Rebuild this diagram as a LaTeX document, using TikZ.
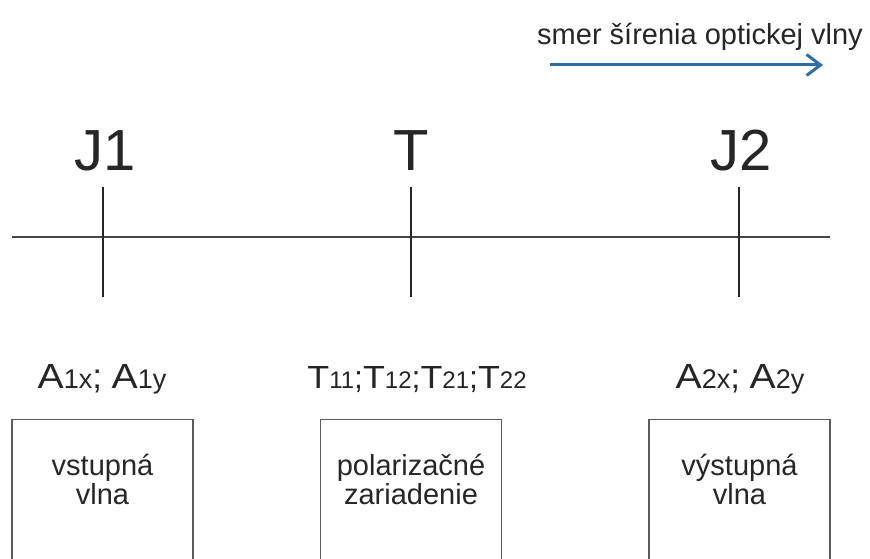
\documentclass[tikz,border=0pt]{standalone}
\usepackage{fontspec}
\usepackage{graphicx}
\setmainfont{Liberation Sans}
\usetikzlibrary{arrows.meta}
\definecolor{ink}{HTML}{262626}
\definecolor{wave}{HTML}{2E6DA4}
% indices set on the baseline, and a slightly widened capital
\newcommand{\idxA}[1]{{\fontsize{27}{27}\selectfont #1}}
\newcommand{\idxT}[1]{{\fontsize{24}{24}\selectfont #1}}
\newcommand{\wcap}[1]{\scalebox{1.12}[1]{#1}}
\begin{document}
\begin{tikzpicture}[x=1pt,y=-1pt,
  txt/.style={inner sep=0pt, text=ink, font=\fontsize{29}{29}\selectfont, align=center},
  big/.style={inner sep=0pt, text=ink, font=\fontsize{58}{60}\selectfont, anchor=base},
  lbl/.style={inner sep=0pt, text=ink, anchor=base},
  tickline/.style={draw=ink, line width=2.2pt},
  axis/.style={draw=ink!85, line width=1.2pt},
  block/.style={draw=ink!75, line width=1.2pt, minimum width=181pt, minimum height=170pt, anchor=north, inner sep=0pt}
]
\clip (0,0) rectangle (870,559);

% propagation direction
\node[txt, anchor=base] (dir) at (700,45) {smer šírenia optickej vlny};
\coordinate (arrA) at (550,65);
\coordinate (arrB) at (823,65);
\draw[wave, line width=3pt, -{Straight Barb[length=14pt, width=21pt, line width=3pt]}] (arrA) -- (arrB);

% reference planes
\node[big] (J1) at (105,170) {J1};
\node[big] (T) at (411,170) {T};
\node[big] (J2) at (741,170) {J2};

% optical axis
\coordinate (axL) at (12,237);
\coordinate (axR) at (830,237);
\draw[axis] (axL) -- (axR);

% plane markers
\coordinate (j1t) at (103,187); \coordinate (j1b) at (103,297);
\coordinate (tt) at (411,187);  \coordinate (tb) at (411,297);
\coordinate (j2t) at (739,187); \coordinate (j2b) at (739,297);
\draw[tickline] (j1t) -- (j1b);
\draw[tickline] (tt) -- (tb);
\draw[tickline] (j2t) -- (j2b);

% quantities at each plane
\node[lbl, font=\fontsize{35}{37}\selectfont] (qA1) at (102,388) {\wcap{A}\idxA{1x}; \wcap{A}\idxA{1y}};
\node[lbl, font=\fontsize{32}{34}\selectfont] (qT) at (417,388) {\wcap{T}\idxT{11};\wcap{T}\idxT{12};\wcap{T}\idxT{21};\wcap{T}\idxT{22}};
\node[lbl, font=\fontsize{35}{37}\selectfont] (qA2) at (740,388) {\wcap{A}\idxA{2x}; \wcap{A}\idxA{2y}};

% blocks
\node[block] (bin) at (102.5,419) {};
\node[block] (bpol) at (411,419) {};
\node[block] (bout) at (739.5,419) {};
\node[txt] (tin) at (102.5,479) {vstupná\\vlna};
\node[txt] (tpol) at (411,479) {polarizačné\\zariadenie};
\node[txt] (tout) at (739.5,479) {výstupná\\vlna};
\end{tikzpicture}
\end{document}
